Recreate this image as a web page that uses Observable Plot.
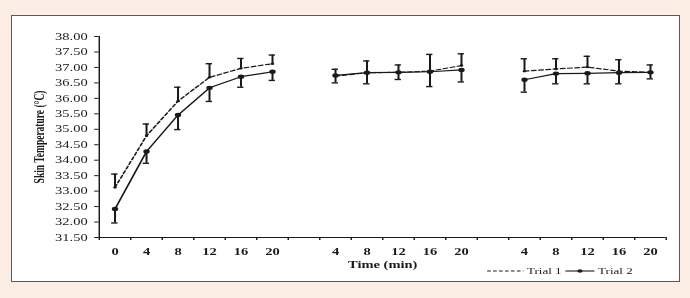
<!DOCTYPE html>
<html>
<head>
<meta charset="utf-8">
<script src="https://cdn.jsdelivr.net/npm/d3@7"></script>
<script src="https://cdn.jsdelivr.net/npm/@observablehq/plot@0.6"></script>
<style>
  html, body { margin: 0; padding: 0; }
  body { width: 690px; height: 298px; background: #fdeee5; position: relative; overflow: hidden; }
  #panel { position: absolute; left: 11px; top: 15px; width: 669px; height: 267px; box-sizing: border-box;
           background: #ffffff; border: 1.5px solid #5a5a5a; }
  #stage { position: absolute; left: 13px; top: 17px; width: 458px; height: 264px;
           transform: scaleX(1.45); transform-origin: 0 0; }
  #stage svg { overflow: visible; }
</style>
</head>
<body>
<div id="panel"></div>
<div id="stage"></div>
<script>
// ---- data ----
const phases = ["P1", "P2", "P3"];
const phaseTimes = [[0, 4, 8, 12, 16, 20], [4, 8, 12, 16, 20], [4, 8, 12, 16, 20]];
const pointPhase = ["P1","P1","P1","P1","P1","P1","P2","P2","P2","P2","P2","P3","P3","P3","P3","P3"];
const pointTime  = [0, 4, 8, 12, 16, 20, 4, 8, 12, 16, 20, 4, 8, 12, 16, 20];
const trial1Mean = [33.12, 34.79, 35.91, 36.68, 36.97, 37.12, 36.72, 36.83, 36.84, 36.88, 37.06, 36.88, 36.95, 37.01, 36.88, 36.84];
const trial1SD   = [0.43, 0.38, 0.45, 0.44, 0.32, 0.28, 0.22, 0.38, 0.24, 0.54, 0.38, 0.40, 0.33, 0.35, 0.37, 0.24];
const trial2Mean = [32.42, 34.28, 35.46, 36.34, 36.70, 36.86, 36.74, 36.83, 36.84, 36.86, 36.92, 36.60, 36.80, 36.81, 36.83, 36.84];
const trial2SD   = [0.45, 0.38, 0.47, 0.44, 0.34, 0.28, 0.24, 0.36, 0.23, 0.48, 0.39, 0.40, 0.33, 0.34, 0.36, 0.21];
const yTicks = d3.range(31.5, 38.01, 0.5);
const seriesNames = ["Trial 1", "Trial 2"];
const xTitle = "Time (min)";
const yTitle = "Skin Temperature (°C)";

// ---- categories (with blank separators between phases) ----
const categories = [];
phases.forEach((p, pi) => {
  if (pi > 0) categories.push({key: "gap" + pi, label: ""});
  phaseTimes[pi].forEach(t => categories.push({key: p + "-" + t, label: String(t)}));
});
const slotOf = key => categories.findIndex(c => c.key === key) + 0.5;
categories.forEach((c, i) => c.slot = i + 0.5);
const boundaries = d3.range(0, categories.length + 1);

const rows = pointTime.map((t, i) => ({
  phase: pointPhase[i], time: t, slot: slotOf(pointPhase[i] + "-" + t),
  m1: trial1Mean[i], s1: trial1SD[i], m2: trial2Mean[i], s2: trial2SD[i]
}));

const ink = "#1a1a1a";
const capHalf = 0.1;

const chart = Plot.plot({
  width: 458,
  height: 264,
  marginLeft: 59,
  marginRight: 8,
  marginTop: 19,
  marginBottom: 44,
  style: {fontFamily: "'Liberation Serif', serif", fontSize: "10px", color: ink, background: "transparent"},
  x: {type: "linear", domain: [0, categories.length], axis: null},
  y: {domain: [31.5, 38], axis: null},
  marks: [
    // axes
    Plot.axisY({ticks: yTicks, tickFormat: d3.format(".2f"), tickSize: 3, tickPadding: 5, label: null, fontSize: 10, stroke: ink}),
    Plot.axisX({ticks: boundaries, tickSize: 3, tickFormat: () => "", label: null, stroke: ink}),
    Plot.ruleX([0], {stroke: ink, strokeWidth: 1}),
    Plot.ruleY([31.5], {stroke: ink, strokeWidth: 1}),
    Plot.text(categories, {x: "slot", text: "label", frameAnchor: "bottom", dy: 14, lineAnchor: "middle",
      fontWeight: "bold", fontSize: 10, fill: ink}),
    Plot.text([xTitle], {frameAnchor: "bottom", dy: 27, lineAnchor: "middle", fontWeight: "bold", fontSize: 10, fill: ink}),
    Plot.text([yTitle], {frameAnchor: "left", dx: -41, rotate: -90, lineAnchor: "middle", textAnchor: "middle",
      fontWeight: "bold", fontSize: 9.5, fill: ink}),
    // Trial 1 error bars (upper)
    Plot.ruleX(rows, {x: "slot", y1: "m1", y2: d => d.m1 + d.s1, stroke: ink, strokeWidth: 1.4}),
    Plot.ruleY(rows, {y: d => d.m1 + d.s1, x1: d => d.slot - capHalf, x2: d => d.slot + capHalf, stroke: ink, strokeWidth: 1.4}),
    // Trial 2 error bars (lower)
    Plot.ruleX(rows, {x: "slot", y1: "m2", y2: d => d.m2 - d.s2, stroke: ink, strokeWidth: 1.4}),
    Plot.ruleY(rows, {y: d => d.m2 - d.s2, x1: d => d.slot - capHalf, x2: d => d.slot + capHalf, stroke: ink, strokeWidth: 1.4}),
    // lines
    Plot.line(rows, {x: "slot", y: "m1", z: "phase", stroke: ink, strokeWidth: 1.2, strokeDasharray: "3,2"}),
    Plot.dot(rows, {x: "slot", y: "m1", r: 1.2, fill: ink, stroke: "none"}),
    Plot.line(rows, {x: "slot", y: "m2", z: "phase", stroke: ink, strokeWidth: 1.2}),
    Plot.dot(rows, {x: "slot", y: "m2", r: 2.2, fill: ink, stroke: "none"})
  ]
});
document.getElementById("stage").appendChild(chart);

// ---- legend (inside the same stretched stage) ----
const svg = d3.select(chart);
const lg = svg.append("g").attr("font-family", "'Liberation Serif', serif").attr("font-size", 9)
  .attr("fill", ink).attr("text-anchor", "start");
const ly = 254;
lg.append("line").attr("x1", 327).attr("x2", 352).attr("y1", ly).attr("y2", ly)
  .attr("stroke", ink).attr("stroke-width", 1.1).attr("stroke-dasharray", "2.5,1.6");
lg.append("text").attr("x", 354.5).attr("y", ly).attr("dy", "0.32em").text(seriesNames[0]);
lg.append("line").attr("x1", 381).attr("x2", 401).attr("y1", ly).attr("y2", ly)
  .attr("stroke", ink).attr("stroke-width", 1.1);
lg.append("circle").attr("cx", 391).attr("cy", ly).attr("r", 1.8).attr("fill", ink);
lg.append("text").attr("x", 403.5).attr("y", ly).attr("dy", "0.32em").text(seriesNames[1]);
</script>
</body>
</html>
